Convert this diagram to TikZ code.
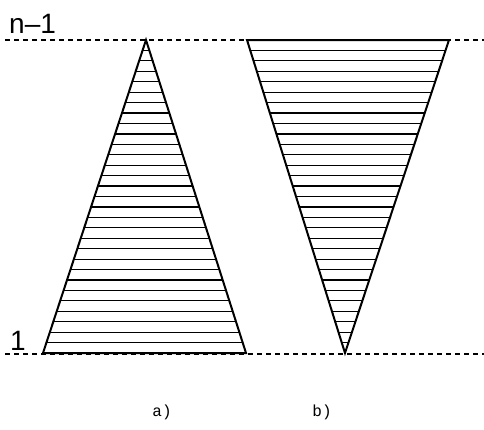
\documentclass[tikz,border=0pt]{standalone}
\usepackage{fontspec}
\newfontfamily\levelfont{Liberation Sans}
\newfontfamily\capfont{Liberation Mono}
\usetikzlibrary{positioning, calc}

\begin{document}
\begin{tikzpicture}[x=1pt, y=-1pt,
  level/.style={dash pattern=on 5pt off 4pt, line width=1.4pt},
  outline/.style={line width=2pt, line join=miter},
  hatch/.style={line width=1.2pt},
  lvl/.style={font=\levelfont\fontsize{28}{28}\selectfont, inner sep=0pt, anchor=base west},
  panel/.style={font=\capfont\fontsize{16}{16}\selectfont, inner sep=0pt}]
  \useasboundingbox (0,0) rectangle (484,429);
  % levels
  \coordinate (topL) at (5,40);
  \coordinate (topR) at (484,40);
  \coordinate (botL) at (5,354);
  \coordinate (botR) at (484,354);
  \draw[level] (topL) -- (topR);
  \draw[level] (botL) -- (botR);
  \node[lvl] (nm1) at (9,33) {n–1};
  \node[lvl] (one) at (10,350) {1};
  % a)
  \coordinate (apexA) at (146,40);
  \coordinate (baseAL) at (43,353);
  \coordinate (baseAR) at (246,353);
  \foreach \k in {1,...,29}
    \draw[hatch] ($(apexA)!\k/30!(baseAL)$) -- ($(apexA)!\k/30!(baseAR)$);
  \draw[outline] (apexA) -- (baseAL) -- (baseAR) -- cycle;
  % b)
  \coordinate (apexB) at (345,353);
  \coordinate (topBL) at (247,40);
  \coordinate (topBR) at (449,40);
  \foreach \k in {1,...,29}
    \draw[hatch] ($(topBL)!\k/30!(apexB)$) -- ($(topBR)!\k/30!(apexB)$);
  \draw[outline] (topBL) -- (topBR) -- (apexB) -- cycle;
  \node[panel] (capA) at (162,412) {a)};
  \node[panel] (capB) at (322,412) {b)};
\end{tikzpicture}
\end{document}
